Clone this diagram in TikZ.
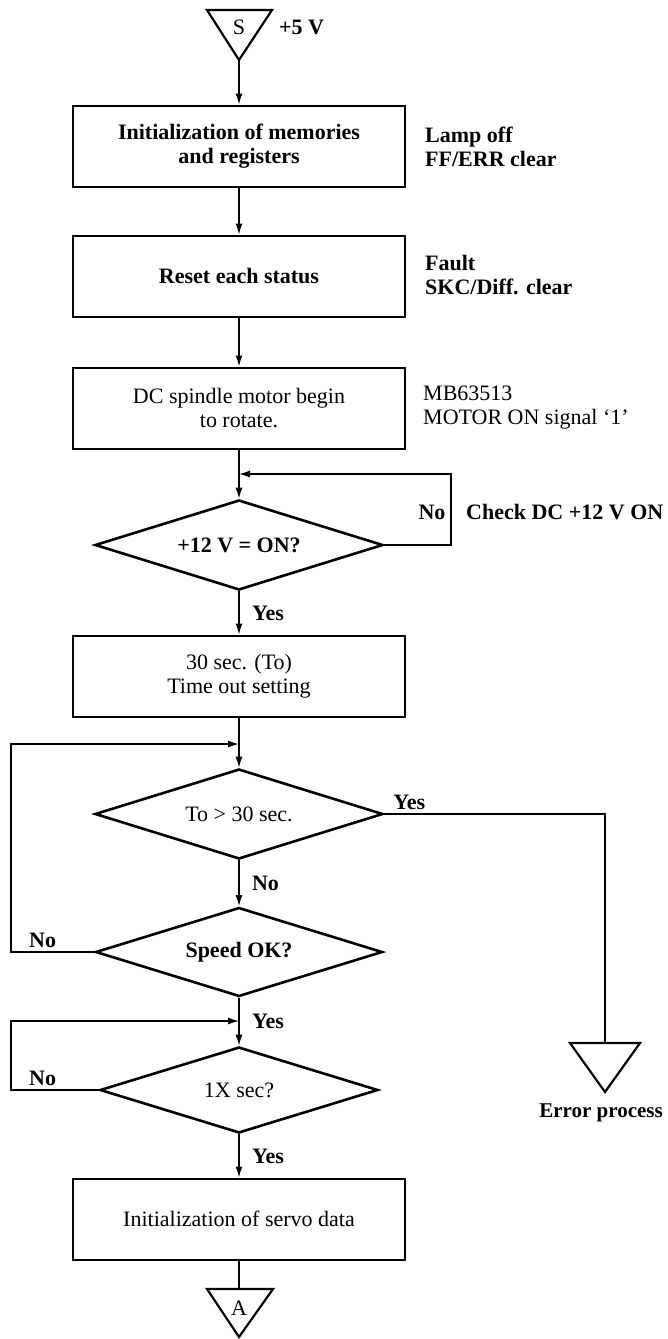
\documentclass[tikz,border=0pt]{standalone}
\usepackage{fontspec}
\setmainfont{Liberation Serif}
\usetikzlibrary{arrows.meta,shapes.geometric}

\begin{document}
\begin{tikzpicture}[x=1pt,y=-1pt,
	font=\fontsize{22}{24}\selectfont,
	box/.style={draw,line width=2pt,minimum width=332pt,minimum height=81pt,align=center,inner sep=0pt},
	test/.style={draw,diamond,line width=2.6pt,minimum width=288pt,minimum height=90pt,aspect=3.2,inner sep=0pt},
	note/.style={align=left,anchor=west,inner sep=0pt},
	lbl/.style={font=\fontsize{22}{24}\selectfont\bfseries},
	line/.style={line width=1.4pt},
	arr/.style={line,-{Latex[length=11pt,width=7pt]}},
	tri/.style={line width=2.2pt,line join=miter}]
	\useasboundingbox (0,0) rectangle (667,1339);
	\coordinate (S-tip) at (239,60);
	\draw[tri] (207,10) -- (272,10) -- (S-tip) -- cycle;
	\node (S) at (239,27) {S};
	\node[lbl,note] (S-volt) at (279,27) {+5 V};
	\node[box,lbl] (memo) at (239,146) {Initialization of memories\\and registers};
	\node[note,lbl] (memo-note) at (425,147) {Lamp off\\FF/ERR clear};
	\node[box,lbl] (reset) at (239,276) {Reset each status};
	\node[note,lbl] (reset-note) at (425,275) {Fault\\SKC/Diff. clear};
	\node[box] (spin) at (239,408) {DC spindle motor begin\\to rotate.};
	\node[note] (spin-note) at (423,408) {MB63513\\MOTOR ON signal `1'};
	\node[test,lbl] (v12) at (239,545) {+12 V = ON?};
	\node[lbl] (v12-no) at (432,512) {No};
	\node[note,lbl] (v12-note) at (466,512) {Check DC +12 V ON};
	\node[box] (tout) at (239,676) {30 sec. (To)\\Time out setting};
	\node[test] (to30) at (239,814) {To > 30 sec.};
	\node[test,lbl,minimum width=287pt,minimum height=89pt] (speed) at (239,952) {Speed OK?};
	\node[test,minimum width=278pt,minimum height=86pt] (onex) at (239,1090) {1X sec?};
	\node[box] (servo) at (239,1219) {Initialization of servo data};
	\coordinate (j1) at (239,474);
	\coordinate (r1) at (451,474);
	\coordinate (j2) at (239,744);
	\coordinate (c2) at (11,744);
	\coordinate (j3) at (239,1021);
	\coordinate (c3) at (11,1021);
	\coordinate (E-top) at (605,1043);
	\coordinate (E-tip) at (605,1092);
	\coordinate (A-top) at (239,1289);
	\coordinate (A-tip) at (239,1337);
	\draw[tri] (570,1043) -- (640,1043) -- (E-tip) -- cycle;
	\node[lbl,font=\fontsize{21}{24}\selectfont\bfseries] (E-txt) at (601,1113) {Error process};
	\draw[tri] (207,1289) -- (273,1289) -- (A-tip) -- cycle;
	\node (A) at (239,1308) {A};
	\draw[arr] (S-tip) -- (memo);
	\draw[arr] (memo) -- (reset);
	\draw[arr] (reset) -- (spin);
	\draw[arr] (spin) -- (v12);
	\draw[arr] (v12.east) -| (r1) -- (j1);
	\draw[arr] (v12) -- node[lbl,right,xshift=9pt] {Yes} (tout);
	\draw[arr] (tout) -- (to30);
	\draw[line] (to30.east) -- node[lbl,above right,pos=0,xshift=5pt] {Yes} (to30.east -| E-top) -- (E-top);
	\draw[arr] (to30) -- node[lbl,right,xshift=9pt] {No} (speed);
	\draw[arr] (speed.west) -| node[lbl,above,pos=0.31] {No} (c2) -- (j2);
	\draw[arr] (speed) -- node[lbl,right,xshift=9pt] {Yes} (onex);
	\draw[arr] (onex.west) -| node[lbl,above,pos=0.32] {No} (c3) -- (j3);
	\draw[arr] (onex) -- node[lbl,right,xshift=9pt] {Yes} (servo);
	\draw[line] (servo) -- (A-top);
\end{tikzpicture}
\end{document}
